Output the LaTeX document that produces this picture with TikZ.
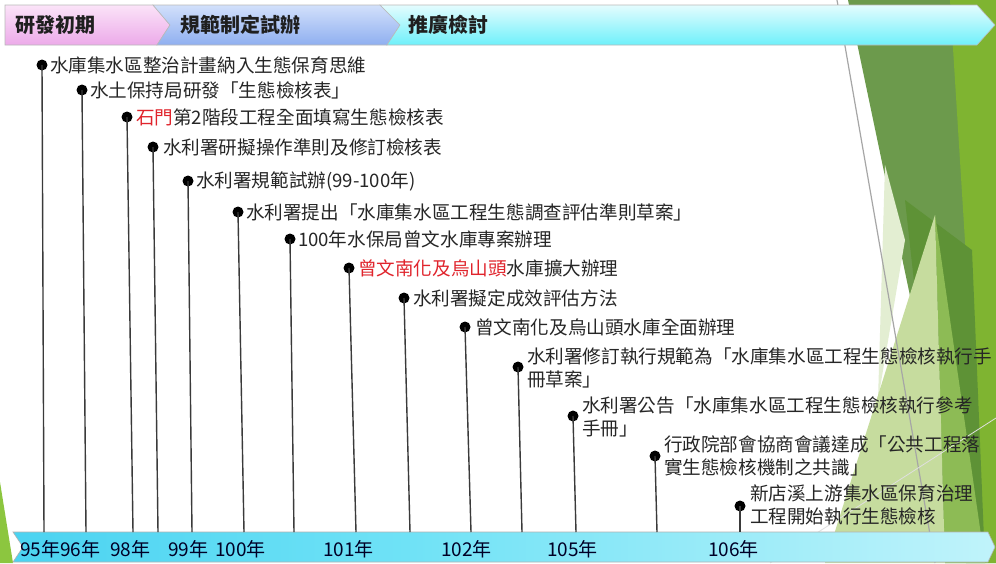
\documentclass[tikz,border=0pt]{standalone}
\usepackage{fontspec}
\setmainfont{Noto Sans CJK TC}
\definecolor{txt}{HTML}{262626}
\definecolor{redt}{HTML}{E0242C}
\definecolor{pinkT}{HTML}{FBE3F8}
\definecolor{pinkB}{HTML}{ECAAE9}
\definecolor{blueT}{HTML}{D2E0FB}
\definecolor{blueB}{HTML}{8FAFF0}
\definecolor{cyanT}{HTML}{E4FCFE}
\definecolor{cyanB}{HTML}{6EF0FA}
\definecolor{barL}{HTML}{1EC0EA}
\definecolor{barM}{HTML}{6FE2F6}
\definecolor{barR}{HTML}{C8F5FB}
\definecolor{gbright}{HTML}{7FB431}
\definecolor{gmuted}{HTML}{6C9A4C}
\definecolor{gdark}{HTML}{5E9236}
\definecolor{gmid}{HTML}{8DBB55}
\definecolor{glight}{HTML}{C6DC9E}
\definecolor{gpale}{HTML}{E3EED2}
\definecolor{gleft}{HTML}{8CC63F}
\definecolor{tickc}{HTML}{3A3A3A}
\pgfdeclarehorizontalshading{barshade}{100bp}{color(0bp)=(barL); color(45bp)=(barM); color(78bp)=(barR); color(93bp)=(white); color(100bp)=(glight)}
\tikzset{
  ev/.style={anchor=west, text=txt, font=\fontsize{18.6}{23}\selectfont, align=left},
  yr/.style={anchor=west, text=black!85!blue, font=\fontsize{19}{22}\selectfont},
  ph/.style={anchor=west, text=black!88, font=\bfseries\fontsize{20}{24}\selectfont},
  dotc/.style={circle, fill=black, minimum size=11pt},
  tickl/.style={draw=tickc, line width=1.4pt},
  seg/.style={draw=gray!55, line width=0.6pt},
}
\begin{document}
\begin{tikzpicture}[x=1pt,y=-1pt, every node/.style={inner sep=0pt, outer sep=0pt}]
\useasboundingbox (0,0) rectangle (996,563);
\fill[white] (0,0) rectangle (996,563);
% background facets
\path[fill=gmuted] (848,0) -- (996,0) -- (996,563) -- (966,563) -- cycle;
\path[fill=gbright] (950,0) -- (996,0) -- (996,563) -- (985,563) -- cycle;
\path[fill=gpale] (885,165) -- (905,240) -- (878,400) -- cycle;
\path[fill=gdark] (905,200) -- (972,250) -- (985,563) -- (945,563) -- cycle;
\path[fill=gmid] (935,215) -- (985,563) -- (945,563) -- cycle;
\path[fill=glight] (825,563) -- (935,215) -- (945,563) -- cycle;
\path[fill=gleft] (0,482) -- (13,563) -- (0,563) -- cycle;
\draw[gray!70, line width=1.2pt] (837,0) -- (935,563);
\draw[white!75!gray, line width=0.8pt] (770,563) -- (996,418);
% phase banner
\path[seg, top color=pinkT, bottom color=pinkB] (5,5) -- (153,5) -- (170,25) -- (157,45) -- (5,45) -- cycle;
\path[seg, top color=blueT, bottom color=blueB] (153,5) -- (380,5) -- (400,25) -- (387,45) -- (157,45) -- (170,25) -- cycle;
\path[seg, top color=cyanT, bottom color=cyanB] (380,5) -- (977,5) -- (995,25) -- (977,45) -- (387,45) -- (400,25) -- cycle;
\node[ph] (p1) at (15,25) {研發初期};
\node[ph] (p2) at (180,25) {規範制定試辦};
\node[ph] (p3) at (408,25) {推廣檢討};
% year bar
\path[draw=gray!60, line width=0.6pt, shading=barshade]
  (13,532) -- (988,532) -- (995,547) -- (988,562) -- (13,562) -- (23,547) -- cycle;
\node[yr] (y95) at (20,549) {95年};
\node[yr] (y96) at (60,549) {96年};
\node[yr] (y98) at (110,549) {98年};
\node[yr] (y99) at (168,549) {99年};
\node[yr] (y100) at (215,549) {100年};
\node[yr] (y101) at (323,549) {101年};
\node[yr] (y102) at (441,549) {102年};
\node[yr] (y105) at (547,549) {105年};
\node[yr] (y106) at (708,549) {106年};
% events
\node[dotc] (d1) at (42,65) {};
\node[dotc] (d2) at (82,90) {};
\node[dotc] (d3) at (127,117) {};
\node[dotc] (d4) at (153,147) {};
\node[dotc] (d5) at (188,181) {};
\node[dotc] (d6) at (238,212) {};
\node[dotc] (d7) at (290,239) {};
\node[dotc] (d8) at (349,268) {};
\node[dotc] (d9) at (404,298) {};
\node[dotc] (d10) at (465,327) {};
\node[dotc] (d11) at (518,367) {};
\node[dotc] (d12) at (573,416) {};
\node[dotc] (d13) at (655,456) {};
\node[dotc] (d14) at (740,506) {};
\coordinate (b1) at (44,532);
\coordinate (b2) at (86,532);
\coordinate (b3) at (133,532);
\coordinate (b4) at (158,532);
\coordinate (b5) at (192,532);
\coordinate (b6) at (244,532);
\coordinate (b7) at (294,532);
\coordinate (b8) at (356,532);
\coordinate (b9) at (410,532);
\coordinate (b10) at (471,532);
\coordinate (b11) at (522,532);
\coordinate (b12) at (576,532);
\coordinate (b13) at (657,532);
\coordinate (b14) at (740,532);
\foreach \i in {1,...,14} { \draw[tickl] (d\i.center) -- (b\i); }
\node[ev] (t1) at (50,65) {水庫集水區整治計畫納入生態保育思維};
\node[ev] (t2) at (90,90) {水土保持局研發「生態檢核表」};
\node[ev] (t3) at (136,117) {\textcolor{redt}{石門}第2階段工程全面填寫生態檢核表};
\node[ev] (t4) at (163,147) {水利署研擬操作準則及修訂檢核表};
\node[ev] (t5) at (196,181) {水利署規範試辦(99-100年)};
\node[ev] (t6) at (246,212) {水利署提出「水庫集水區工程生態調查評估準則草案」};
\node[ev] (t7) at (298,239) {100年水保局曾文水庫專案辦理};
\node[ev] (t8) at (358,268) {\textcolor{redt}{曾文南化及烏山頭}水庫擴大辦理};
\node[ev] (t9) at (413,298) {水利署擬定成效評估方法};
\node[ev] (t10) at (475,327) {曾文南化及烏山頭水庫全面辦理};
\node[ev] (t11) at (527,368) {水利署修訂執行規範為「水庫集水區工程生態檢核執行手\\冊草案」};
\node[ev] (t12) at (582,417) {水利署公告「水庫集水區工程生態檢核執行參考\\手冊」};
\node[ev] (t13) at (664,456) {行政院部會協商會議達成「公共工程落\\實生態檢核機制之共識」};
\node[ev] (t14) at (750,505) {新店溪上游集水區保育治理\\工程開始執行生態檢核};
\end{tikzpicture}
\end{document}
